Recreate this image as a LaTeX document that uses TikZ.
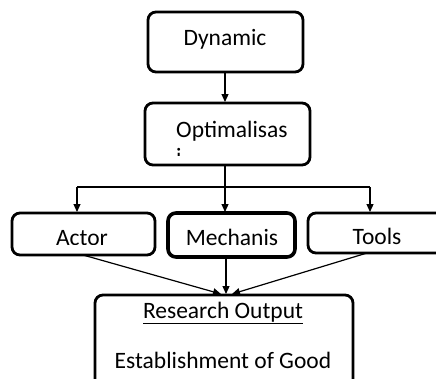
\documentclass[tikz,border=0pt]{standalone}
\usepackage{fontspec}
\setmainfont{Carlito}
\usetikzlibrary{arrows.meta}
\begin{document}
\begin{tikzpicture}[x=1pt,y=-1pt,
  box/.style={draw,line width=2.8pt,rounded corners=8pt,inner sep=0pt},
  lbl/.style={font=\fontsize{23.5}{26}\selectfont,inner sep=0pt,anchor=center},
  conn/.style={line width=1.2pt,-{Triangle[length=8pt,width=7pt]}},
  plain/.style={line width=1.2pt}]
\useasboundingbox (0,0) rectangle (436,378);
% boxes
\node[box,minimum width=155pt,minimum height=60pt] (dyn) at (225.5,42) {};
\node[box,minimum width=165pt,minimum height=62pt] (opt) at (227.5,134) {};
\node[box,minimum width=143pt,minimum height=42pt] (act) at (83.5,234) {};
\node[box,line width=3.6pt,minimum width=127pt,minimum height=44pt] (mech) at (231.5,235) {};
\node[box,minimum width=142pt,minimum height=40pt] (tools) at (379,233) {};
\node[box,minimum width=258pt,minimum height=100pt] (res) at (224,345) {};
% texts
\node[lbl] (tdyn) at (225,39) {Dynamic};
\node[lbl,anchor=west] (topt) at (176,131) {Optimalisas};
\begin{scope}
\clip (170,140) rectangle (190,155.5);
\node[lbl,anchor=west] (topti) at (176,156) {i};
\end{scope}
\begin{scope}
\clip (40,220) rectangle (130,244.5);
\node[lbl] (tact) at (82,238) {Actor};
\end{scope}
\node[lbl] (tmech) at (232,237) {Mechanis};
\node[lbl] (ttools) at (377,236) {Tools};
\node[lbl] (tres1) at (223,313) {\underline{Research Output}};
\node[lbl] (tres2) at (223,360) {Establishment of Good};
% connectors
\coordinate (split) at (225,187);
\coordinate (sl) at (77,187);
\coordinate (sr) at (370,187);
\coordinate (optb) at (225,165);
\coordinate (mtop) at (225,212);
\coordinate (atop) at (77,212);
\coordinate (ttop) at (370,212);
\coordinate (dynb) at (225,72);
\coordinate (optt) at (225,102);
\draw[conn] (dynb) -- (optt);
\draw[plain] (optb) -- (split);
\draw[plain] (sl) -- (sr);
\draw[conn] (split) -- (mtop);
\draw[conn] (sl) -- (atop);
\draw[conn] (sr) -- (ttop);
\coordinate (ab) at (83,255);
\coordinate (mb) at (226,259);
\coordinate (tb) at (367,253);
\coordinate (rl) at (221,294);
\coordinate (rm) at (226,294);
\coordinate (rr) at (232,294);
\draw[conn] (ab) -- (rl);
\draw[conn] (mb) -- (rm);
\draw[conn] (tb) -- (rr);
\end{tikzpicture}
\end{document}
